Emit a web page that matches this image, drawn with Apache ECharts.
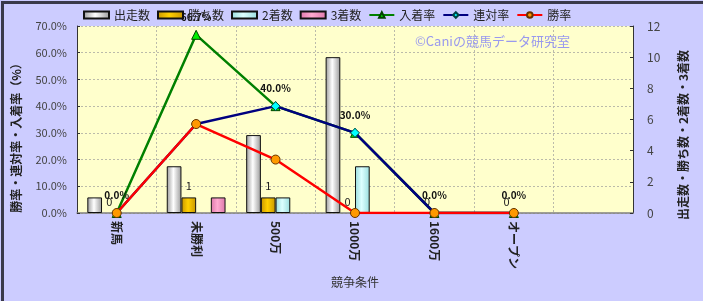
<!DOCTYPE html>
<html><head><meta charset="utf-8">
<script src="https://cdn.jsdelivr.net/npm/echarts@6/dist/echarts.min.js"></script>
<style>html,body{margin:0;padding:0;background:#ccccff}#c{width:703px;height:301px}</style>
</head><body><div id="c"></div>
<script>
var categories = ['新馬', '未勝利', '500万', '1000万', '1600万', 'オープン', ''];
var starts = [1, 3, 5, 10, 0, 0, null];
var wins = [0, 1, 1, 0, 0, 0, null];
var seconds = [0, 0, 1, 3, 0, 0, null];
var thirds = [0, 1, 0, 0, 0, 0, null];
var placeRate = [0, 66.7, 40.0, 30.0, 0, 0, null];
var quinellaRate = [0, 33.3, 40.0, 30.0, 0, 0, null];
var winRate = [0, 33.3, 20.0, 0, 0, 0, null];
var leftTicks = [0, 10, 20, 30, 40, 50, 60, 70];
var rightTicks = [0, 2, 4, 6, 8, 10, 12];
var leftAxisName = '勝率・連対率・入着率（%）';
var rightAxisName = '出走数・勝ち数・2着数・3着数';

var font = '"Noto Sans CJK JP", sans-serif';
function grad(a, b) {
  return new echarts.graphic.LinearGradient(0, 0, 1, 0, [
    {offset: 0, color: a}, {offset: 0.45, color: b}, {offset: 1, color: a}]);
}
function barData(arr) {
  return arr.map(function (v) {
    return (v === 0) ? {value: v, itemStyle: {borderWidth: 0}} : v;
  });
}
var chart = echarts.init(document.getElementById('c'), null, {renderer: 'canvas'});
chart.setOption({
  animation: false,
  backgroundColor: '#ccccff',
  textStyle: {fontFamily: font},
  legend: {
    left: 78, top: 4, itemWidth: 25, itemHeight: 7, itemGap: 7,
    textStyle: {fontSize: 12, color: '#222', fontFamily: font},
    data: [
      {name: '出走数', icon: 'rect'}, {name: '勝ち数', icon: 'rect'},
      {name: '2着数', icon: 'rect'}, {name: '3着数', icon: 'rect'},
      '入着率', '連対率', '勝率']
  },
  graphic: [
    {type: 'rect', left: 0, top: 0, shape: {width: 703, height: 301},
     style: {fill: 'none', stroke: '#3a3a4a', lineWidth: 3}, silent: true, z: 100},
    {type: 'text', left: 415, top: 35,
     style: {text: '©Caniの競馬データ研究室', fill: '#9999ee', font: '13px ' + font}, z: 50},
    {type: 'text', x: 16, y: 135, rotation: Math.PI / 2,
     style: {text: leftAxisName, fill: '#222', font: 'bold 12px ' + font, textAlign: 'center', textVerticalAlign: 'middle'}},
    {type: 'text', x: 683, y: 135, rotation: Math.PI / 2,
     style: {text: rightAxisName, fill: '#222', font: 'bold 12px ' + font, textAlign: 'center', textVerticalAlign: 'middle'}}
  ],
  grid: {left: 77, right: 70, top: 26, bottom: 88,
    show: true, backgroundColor: '#ffffcc', borderWidth: 0},
  xAxis: {
    type: 'category', data: categories,
    name: '競争条件', nameLocation: 'middle', nameGap: 60,
    nameTextStyle: {fontSize: 12, color: '#333'},
    axisLine: {lineStyle: {color: '#808080', width: 1.5}},
    axisTick: {show: false},
    axisLabel: {rotate: -90, fontSize: 12, color: '#222', fontWeight: 'bold', margin: 8},
    splitLine: {show: true, interval: 0, lineStyle: {color: '#bbbbaa', type: [2, 2]}}
  },
  yAxis: [
    {type: 'value', min: 0, max: 70, interval: 10, position: 'left',
     axisLine: {show: true, lineStyle: {color: '#333'}},
     axisTick: {show: true, inside: true, length: 3, lineStyle: {color: '#333'}},
     axisLabel: {formatter: function (v) { return v.toFixed(1) + '%'; }, fontSize: 11, color: '#444', margin: 10},
     splitLine: {show: true, lineStyle: {color: '#bbbbaa', type: [2, 2]}}},
    {type: 'value', min: 0, max: 12, interval: 2, position: 'right',
     axisLine: {show: true, lineStyle: {color: '#333'}},
     axisTick: {show: true, inside: true, length: 3, lineStyle: {color: '#333'}},
     axisLabel: {fontSize: 12, color: '#444', margin: 14},
     splitLine: {show: false}}
  ],
  series: [
    {name: '出走数', type: 'bar', yAxisIndex: 1, data: barData(starts), barGap: '0%', barCategoryGap: '26%',
     itemStyle: {color: grad('#9a9a9a', '#ffffff'), borderColor: '#111', borderWidth: 1}},
    {name: '勝ち数', type: 'bar', yAxisIndex: 1, data: barData(wins),
     itemStyle: {color: grad('#c89600', '#ffd000'), borderColor: '#111', borderWidth: 1},
     label: {show: true, position: 'top', distance: 6, fontSize: 11, color: '#222'}},
    {name: '2着数', type: 'bar', yAxisIndex: 1, data: barData(seconds),
     itemStyle: {color: grad('#99dddd', '#ddffff'), borderColor: '#111', borderWidth: 1}},
    {name: '3着数', type: 'bar', yAxisIndex: 1, data: barData(thirds),
     itemStyle: {color: grad('#dd77aa', '#ffaad0'), borderColor: '#111', borderWidth: 1}},
    {name: '入着率', type: 'line', yAxisIndex: 0, data: placeRate, symbol: 'triangle', symbolSize: 9,
     lineStyle: {color: '#008000', width: 2.5}, itemStyle: {color: '#00ee00', borderColor: '#004400', borderWidth: 1},
     label: {show: true, position: 'top', distance: 8, fontSize: 10, fontWeight: 'bold', color: '#111',
       formatter: function (p) { return p.value.toFixed(1) + '%'; }}, z: 3},
    {name: '連対率', type: 'line', yAxisIndex: 0, data: quinellaRate, symbol: 'diamond', symbolSize: 9,
     lineStyle: {color: '#000080', width: 2.5}, itemStyle: {color: '#00ffff', borderColor: '#004444', borderWidth: 1}, z: 4},
    {name: '勝率', type: 'line', yAxisIndex: 0, data: winRate, symbol: 'circle', symbolSize: 9,
     lineStyle: {color: '#ff0000', width: 2.5}, itemStyle: {color: '#ff9900', borderColor: '#663300', borderWidth: 1}, z: 5}
  ]
});
</script></body></html>
